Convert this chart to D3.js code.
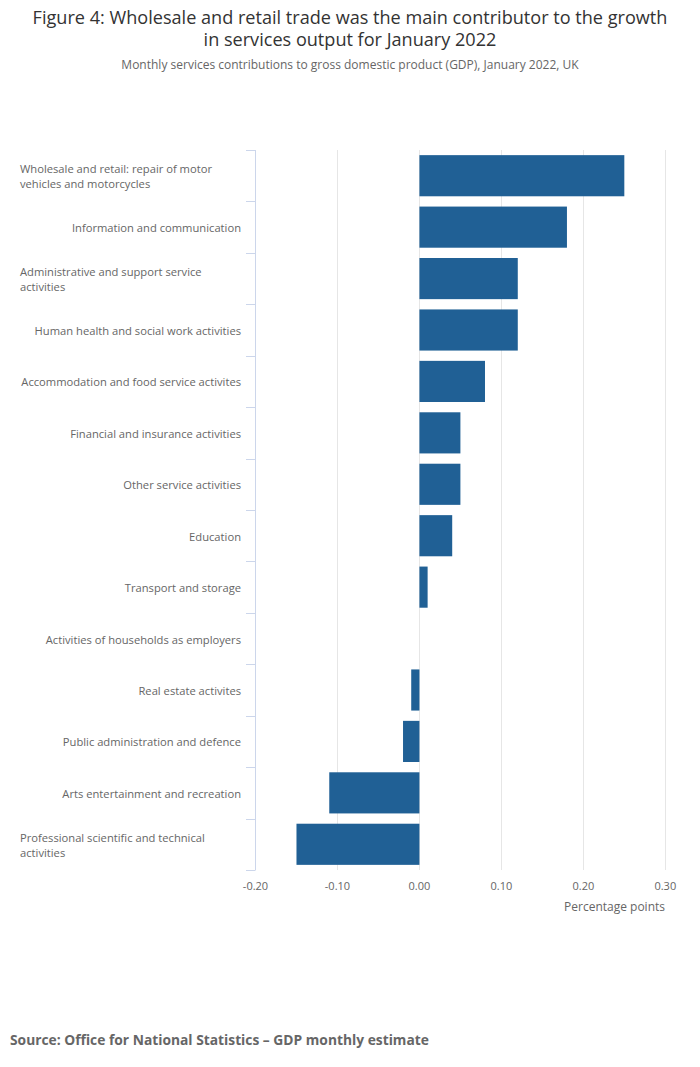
<!DOCTYPE html>
<html>
<head>
<meta charset="utf-8">
<script src="https://cdn.jsdelivr.net/npm/d3@7"></script>
<style>
  body { margin: 0; background: #fff; font-family: "Open Sans", sans-serif; }
</style>
</head>
<body>
<div class="canvas"></div>
<script>
// Data
const categories = [
  'Wholesale and retail: repair of motor vehicles and motorcycles',
  'Information and communication',
  'Administrative and support service activities',
  'Human health and social work activities',
  'Accommodation and food service activites',
  'Financial and insurance activities',
  'Other service activities',
  'Education',
  'Transport and storage',
  'Activities of households as employers',
  'Real estate activites',
  'Public administration and defence',
  'Arts entertainment and recreation',
  'Professional scientific and technical activities'
]
const values = [0.25, 0.18, 0.12, 0.12, 0.08, 0.05, 0.05, 0.04, 0.01, 0, -0.01, -0.02, -0.11, -0.15]
const xTicks = [-0.2, -0.1, 0, 0.1, 0.2, 0.3]

const width = 700
const height = 1067

const svg = d3.select('.canvas')
  .append('svg')
  .attr('width', width)
  .attr('height', height)

// Titles
const title = svg.append('text')
  .attr('text-anchor', 'middle')
  .attr('fill', '#333')
  .style('font-size', '18.1px')
title.append('tspan').attr('x', 350).attr('y', 24)
  .text('Figure 4: Wholesale and retail trade was the main contributor to the growth')
title.append('tspan').attr('x', 350).attr('y', 46)
  .text('in services output for January 2022')

svg.append('text')
  .attr('x', 350)
  .attr('y', 69)
  .attr('text-anchor', 'middle')
  .attr('fill', '#666')
  .style('font-size', '12px')
  .text('Monthly services contributions to gross domestic product (GDP), January 2022, UK')

// Scales
const x = d3.scaleLinear()
  .domain([-0.2, 0.3])
  .range([255.5, 665.3])

const y = d3.scaleBand()
  .domain(categories)
  .range([150, 870])
  .paddingInner(0.2)
  .paddingOuter(0.1)

// Gridlines
svg.append('g')
  .selectAll('line')
  .data(xTicks.filter(d => d !== -0.2))
  .enter()
  .append('line')
  .attr('x1', d => Math.round(x(d)) + 0.5)
  .attr('x2', d => Math.round(x(d)) + 0.5)
  .attr('y1', 150)
  .attr('y2', 870)
  .attr('stroke', '#e6e6e6')
  .attr('stroke-width', 1)

// Bars
svg.append('g')
  .selectAll('rect')
  .data(values)
  .enter()
  .append('rect')
  .attr('x', d => x(Math.min(0, d)))
  .attr('y', (d, i) => y(categories[i]))
  .attr('width', d => Math.abs(x(d) - x(0)))
  .attr('height', y.bandwidth())
  .attr('fill', '#206095')

// Category axis line and ticks
const yAxisGroup = svg.append('g')
yAxisGroup.append('line')
  .attr('x1', 255.5).attr('x2', 255.5)
  .attr('y1', 150).attr('y2', 870)
  .attr('stroke', '#ccd6eb')
const bounds = d3.range(categories.length + 1).map(i => 150 + i * (720 / categories.length))
yAxisGroup.selectAll('.tick')
  .data(bounds)
  .enter()
  .append('line')
  .attr('x1', 246).attr('x2', 255.5)
  .attr('y1', d => Math.round(d) + 0.5)
  .attr('y2', d => Math.round(d) + 0.5)
  .attr('stroke', '#ccd6eb')

// Category labels (wrap long ones)
const maxLabelWidth = 222
categories.forEach((c, i) => {
  const cy = 150 + (i + 0.5) * (720 / categories.length)
  const t = svg.append('text')
    .attr('fill', '#666')
    .style('font-size', '11.2px')
  const words = c.split(' ')
  let lines = []
  let line = []
  const probe = svg.append('text').style('font-size', '11.2px')
  words.forEach(w => {
    line.push(w)
    probe.text(line.join(' '))
    if (probe.node().getComputedTextLength() > maxLabelWidth && line.length > 1) {
      line.pop()
      lines.push(line.join(' '))
      line = [w]
    }
  })
  lines.push(line.join(' '))
  probe.remove()
  const lh = 15.5
  const startY = cy - (lines.length - 1) * lh / 2 + 5
  if (lines.length > 1) {
    t.attr('text-anchor', 'start')
    lines.forEach((l, j) => {
      t.append('tspan').attr('x', 20).attr('y', startY + j * lh).text(l)
    })
  } else {
    t.attr('text-anchor', 'end')
      .attr('x', 241)
      .attr('y', startY)
      .text(lines[0])
  }
})

// Value axis labels
svg.append('g')
  .selectAll('text')
  .data(xTicks)
  .enter()
  .append('text')
  .attr('x', d => x(d))
  .attr('y', 890)
  .attr('text-anchor', 'middle')
  .attr('fill', '#666')
  .style('font-size', '11px')
  .text(d => d.toFixed(2))

svg.append('text')
  .attr('x', 665)
  .attr('y', 911)
  .attr('text-anchor', 'end')
  .attr('fill', '#666')
  .style('font-size', '12px')
  .text('Percentage points')

// Source
svg.append('text')
  .attr('x', 10)
  .attr('y', 1045)
  .attr('fill', '#666')
  .style('font-size', '13.8px')
  .style('font-weight', 'bold')
  .text('Source: Office for National Statistics \u2013 GDP monthly estimate')
</script>
</body>
</html>
